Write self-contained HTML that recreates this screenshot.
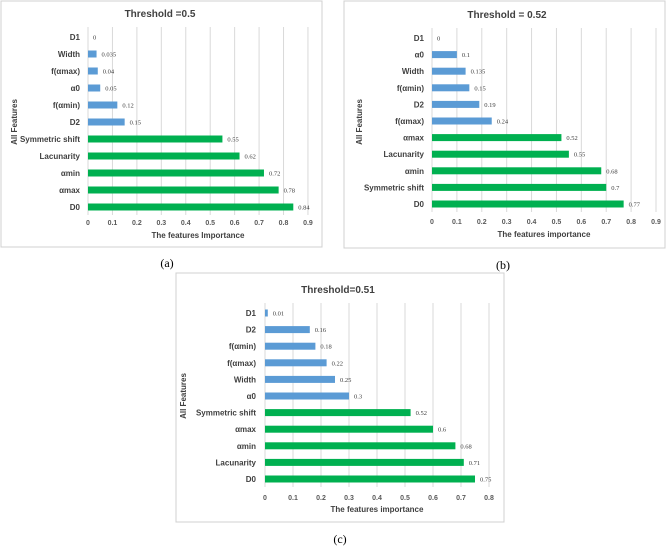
<!DOCTYPE html>
<html><head><meta charset="utf-8"><style>
body{margin:0;background:#fff;width:669px;height:547px;overflow:hidden;font-family:"Liberation Sans",sans-serif}
svg{position:absolute;left:0;top:0}
.cap{font-family:"Liberation Serif",serif;font-size:12px}
</style></head><body>
<svg id="s" width="669" height="547"></svg>
<script>
const catsA=["D1","Width","f(αmax)","α0","f(αmin)","D2","Symmetric shift","Lacunarity","αmin","αmax","D0"];
const valsA=[0,0.035,0.04,0.05,0.12,0.15,0.55,0.62,0.72,0.78,0.84];
const labsA=["0","0.035","0.04","0.05","0.12","0.15","0.55","0.62","0.72","0.78","0.84"];
const catsB=["D1","α0","Width","f(αmin)","D2","f(αmax)","αmax","Lacunarity","αmin","Symmetric shift","D0"];
const valsB=[0,0.1,0.135,0.15,0.19,0.24,0.52,0.55,0.68,0.7,0.77];
const labsB=["0","0.1","0.135","0.15","0.19","0.24","0.52","0.55","0.68","0.7","0.77"];
const catsC=["D1","D2","f(αmin)","f(αmax)","Width","α0","Symmetric shift","αmax","αmin","Lacunarity","D0"];
const valsC=[0.01,0.16,0.18,0.22,0.25,0.3,0.52,0.6,0.68,0.71,0.75];
const labsC=["0.01","0.16","0.18","0.22","0.25","0.3","0.52","0.6","0.68","0.71","0.75"];
const ticks9=["0","0.1","0.2","0.3","0.4","0.5","0.6","0.7","0.8","0.9"];
const ticks8=["0","0.1","0.2","0.3","0.4","0.5","0.6","0.7","0.8"];
const NS="http://www.w3.org/2000/svg";
const svg=document.getElementById('s');
function mk(t,a,p,txt){const e=document.createElementNS(NS,t);for(const k in a)e.setAttribute(k,a[k]);if(txt!==undefined)e.textContent=txt;(p||svg).appendChild(e);return e;}
function chart(c){
  const g=mk('g',{});
  
  
  const fr=mk('rect',{x:c.bx,y:c.by,width:c.bw,height:c.bh,fill:'#fff',stroke:'#d0d0d0','stroke-width':1},g);
  
  
  const xs=v=>c.x0+v*c.unit;
  const ys=i=>c.y0+i*c.step;
  c.ticks.forEach(t=>{
    const x=xs(parseFloat(t));
    const l=mk('line',{x1:x,x2:x,y1:c.y0-10,y2:ys(c.cats.length-1)+8,stroke:'#d9d9d9','stroke-width':1},g);
    
    
    const tt=mk('text',{x:x,y:c.tickY,'font-size':7,'text-anchor':'middle',fill:'#595959','font-weight':'bold'},g,t);
    
    
  });
  c.cats.forEach((cat,i)=>{
    const y=ys(i);const v=c.vals[i];
    const col=i>=6?'#00b050':'#5b9bd5';
    const b=mk('rect',{x:xs(0),y:y-3.5,width:Math.max(0,xs(v)-xs(0)),height:7,fill:col},g);
    
    
    const lt=mk('text',{x:c.labX,y:y+3,'font-size':8,'text-anchor':'end','font-weight':'bold',fill:'#404040'},g,cat);
    
    
    const vt=mk('text',{x:xs(v)+5,y:y+2.5,'font-size':6.5,fill:'#404040','font-family':'Liberation Serif,serif'},g,c.labs[i]);
    
    
  });
  const ti=mk('text',{x:c.titleX,y:c.titleY,'font-size':10,'text-anchor':'middle','font-weight':'bold',fill:'#404040'},g,c.title);
  
  
  const xt=mk('text',{x:(c.x0+xs(parseFloat(c.ticks[c.ticks.length-1])))/2,y:c.axY,'font-size':8,'text-anchor':'middle','font-weight':'bold',fill:'#404040'},g,c.xtitle);
  
  
  const yt=mk('text',{x:0,y:0,'font-size':8,'text-anchor':'middle','font-weight':'bold',fill:'#404040',transform:`translate(${c.ytX},${c.ytY}) rotate(-90)`},g,'All Features');
  
  
  const cp=mk('text',{x:c.capX,y:c.capY,'text-anchor':'middle',class:'cap',fill:'#000'},g,c.cap);
  
  
}
chart({name:'chart-a',bx:1,by:1,bw:321,bh:246,x0:88,unit:244.4,y0:37,step:17,cats:catsA,vals:valsA,labs:labsA,ticks:ticks9,tickY:225,axY:238,labX:80,title:'Threshold =0.5',titleX:160,titleY:17,xtitle:'The features Importance',ytX:17,ytY:122,cap:'(a)',capX:167,capY:267});
chart({name:'chart-b',bx:344,by:1,bw:321,bh:247,x0:432,unit:248.9,y0:38,step:16.6,cats:catsB,vals:valsB,labs:labsB,ticks:ticks9,tickY:224,axY:237,labX:424,title:'Threshold = 0.52',titleX:507,titleY:18,xtitle:'The features importance',ytX:362,ytY:122,cap:'(b)',capX:503,capY:269});
chart({name:'chart-c',bx:176,by:273,bw:328,bh:249,x0:265,unit:280,y0:313,step:16.6,cats:catsC,vals:valsC,labs:labsC,ticks:ticks8,tickY:500,axY:512,labX:256,title:'Threshold=0.51',titleX:338,titleY:293,xtitle:'The features importance',ytX:186,ytY:396,cap:'(c)',capX:340,capY:543});
</script>
</body></html>
